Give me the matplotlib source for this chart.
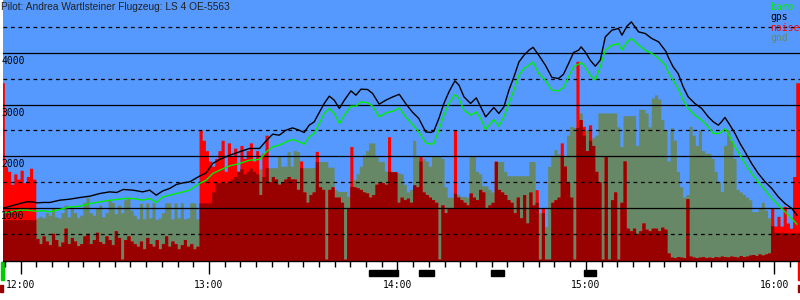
import matplotlib
matplotlib.use('Agg')
import matplotlib.pyplot as plt
import matplotlib.transforms as mtransforms
import numpy as np

# barogram of one flight, times in minutes after 12:00, heights in metres
title = 'Pilot: Andrea Wartlsteiner Flugzeug: LS 4 OE-5563'

# one value per minute, from -6 to 248
minutes = np.arange(-6, 249)

gnd = [764] * 11 + [
    800, 830, 800, 900, 850, 1000, 820, 800, 900, 1050, 820, 1000, 900, 800, 850, 1100,
    1200, 900, 850, 1000, 1050, 820, 900, 1150, 1100, 880, 1050, 900, 1150, 1200, 950,
    850, 780, 1080, 780, 1090, 800, 1090, 770, 800, 900, 1090, 1090, 780, 1090, 800, 1090,
    780, 800, 1090, 1090, 780,
    1090, 1090, 1090, 1090, 1300, 1480, 1480, 1500, 1480, 1520, 1550, 1600, 1700, 1750,
    1650, 1700, 1760, 1700, 1650, 1750, 1600,
    1770, 1770, 1770, 1770, 1990, 1800, 1800, 2080, 1800, 2100, 2080, 1770, 1770, 1770,
    1770, 1770, 1890, 1890, 1890, 1890, 1780, 1780, 1345, 1312, 1312, 1312, 1215, 1409,
    1540, 1650, 1800, 2022, 2100, 2250, 2250, 2000, 1893, 1893, 1700, 1700, 1700, 1700, 1670,
    1650, 1450, 1300, 1350, 2300, 1990, 1900, 1950, 1900, 1800, 1990, 1990, 1990, 1950,
    1400, 1200, 1200, 1280, 1250, 1215, 1215, 1200, 1989, 1990, 1700, 1650, 1420, 1420,
    1350, 1300, 1890, 1890, 1890, 1700, 1615, 1615, 1615, 1615, 1615, 1615, 1615, 1890, 1890,
    1100, 900, 900, 630, 1796, 2000, 2119, 2040, 2000, 2000, 2400, 2567, 2550, 2550, 2830,
    2400, 2500, 2300, 2350, 2400, 2830, 2830, 2830, 2830, 2830, 2830, 2560, 2180, 2777,
    2777, 2777, 2777, 2200, 2900, 2900, 2830, 2560, 3120, 3180, 3100, 2700, 2500, 1900,
    2544, 2300, 1700, 1400, 1200, 1250, 2570, 2400, 2200, 2500, 2100, 2050, 2050, 1950,
    1700, 1500, 1310, 2200, 2500, 2300, 1950, 1350, 1300, 1250, 1200, 1150, 920, 920, 1000,
    1100, 950, 800, 650, 520, 520, 520, 513, 513, 513, 513, 513, 513]

noise = [
    3415, 1790, 1700, 1450, 1650, 1550, 1720, 1480, 1600, 1760, 1550,
    400, 300, 450, 350, 280, 500, 380, 250, 330, 600, 300, 420, 350, 260, 300, 450, 500,
    300, 380, 520, 340, 300, 450, 380, 280, 550, 420, 0, 380, 450, 350,
    300, 250, 350, 200, 420, 300, 250, 380, 200, 300, 450, 250, 350, 300, 200, 280, 380,
    250, 300, 200, 250,
    2500, 2300, 2100, 1900, 1800, 1950, 2100, 2300, 1700, 2250, 2000, 2150, 1700, 2200,
    1950, 2100, 2250, 1900, 2100, 1250, 2050,
    2400, 1500, 1600, 1550, 1450, 1500, 1550, 1600, 1550, 1550, 1350, 1900, 1300, 1100,
    1250, 1300, 2086, 1400, 1350, 0, 1350, 1400, 1200, 1200, 1100, 0, 1000, 2180, 1400,
    1380, 1350, 1300, 1280, 1200, 1250, 1450, 1500, 1480, 1450, 2370, 1690, 1690, 1100,
    1200, 1150, 1180, 1100, 1440, 1400, 2000, 1300, 1250, 1200, 1150, 1100, 0, 1050, 900,
    1000, 1000, 2500, 1200, 1150, 1100, 1050, 1280, 1200, 1150, 1350, 1300, 1000, 1050,
    1100, 1900, 1350, 1300, 1250, 1150, 1100, 900, 1200, 800, 1250, 700, 1300, 1050,
    1345, 0, 1000, 0, 0, 1100, 1150, 1200, 2250, 1800, 1500, 1200, 0, 3830, 2700, 2570,
    2100, 2600, 2200, 1700, 1500, 0, 2000, 0, 1150, 1300, 0, 1100, 1900, 600, 550, 600,
    500, 550, 700, 580, 550, 600, 600, 550, 620, 580, 120,
    40, 30, 50, 40, 30, 1170, 60, 40, 30, 40, 50, 30, 40, 30, 50, 40, 60, 50, 40, 60, 50,
    40, 70, 50, 60, 80, 90, 70, 100, 80, 100, 120, 1000, 640, 830, 640, 1020, 700, 600,
    1600, 3415, 3415]

# gps and baro heights, sampled along the trace
trace_t = [-6, -3.4, -0.2, 1.9, 4.0, 5.1, 7.2, 9.3, 12.5, 15.7, 18.9, 22.1, 25.3, 28.4,
           30.6, 32.7, 35.8, 38.9, 41.1, 43.2, 45.3, 47.5, 49.6, 51.7, 53.8, 57.0, 59.1,
           61.2, 63.4, 66.6, 69.7, 72.9, 76.1, 78.5, 80.3, 82.4, 84.5, 86.6, 88.7, 90.3,
           91.9, 93.5, 95.1, 96.7, 98.3, 99.9, 101.5, 103.1, 105.2, 106.8, 108.4, 110.5,
           112.1, 114.2, 116.3, 118.5, 120.6, 122.6, 124.7, 126.8, 129.0, 130.6, 131.6,
           133.2, 134.8, 136.4, 138.3, 139.6, 141.2, 143.3, 145.1, 146.5, 148.1, 150.7,
           152.3, 153.9, 155.5, 157.1, 158.7, 160.3, 161.9, 163.2, 165.0, 167.1, 169.2,
           171.3, 172.9, 174.5, 176.1, 177.7, 178.5, 179.8, 181.4, 183.0, 184.6, 186.2,
           188.3, 190.4, 191.5, 193.1, 194.5, 196.8, 198.9, 201.0, 203.2, 204.8, 205.5,
           206.2, 207.8, 209.4, 211.0, 212.6, 214.7, 216.9, 219.0, 220.6, 222.2, 223.2,
           224.3, 225.9, 227.5, 229.1, 230.7, 232.8, 234.9, 237.1, 239.2, 241.3, 243.4,
           245.6, 247.2]
gps = [991, 1035, 1087, 1118, 1118, 1099, 1107, 1107, 1151, 1171, 1203, 1229, 1281, 1312,
       1300, 1358, 1345, 1312, 1345, 1248, 1331, 1378, 1455, 1486, 1505, 1616, 1680,
       1861, 1939, 2022, 2086, 2152, 2152, 2320, 2428, 2409, 2506, 2550, 2506, 2461,
       2603, 2667, 2848, 3023, 3164, 3086, 2926, 3086, 3266, 3183, 3299, 3293,
       3216, 3009, 3086, 3150, 3200, 3023, 2860, 2732, 2473, 2461, 2486,
       2732, 3023, 3247, 3460, 3377, 3150, 3023, 3131, 2957, 2763, 2945,
       2829, 2957, 3280, 3537, 3827, 3957, 4054, 4110, 3957, 3764, 3526,
       3506, 3589, 3796, 4009, 4054, 4118, 4021, 3860, 3744, 3860, 4311,
       4441, 4474, 4344, 4518, 4601, 4408, 4377, 4280, 4214, 4087, 4030,
       3924, 3731, 3602, 3344, 3150, 3023, 2926, 2763, 2667, 2603, 2667,
       2752, 2603, 2442, 2249, 2086, 1861, 1668, 1505, 1378, 1215, 1087,
       991, 861]
baro = [900, 925, 958, 958, 945, 938, 945, 925, 971, 1022, 1035, 1087, 1118, 1151,
        1164, 1184, 1184, 1151, 1184, 1107, 1215, 1248, 1281, 1312, 1345, 1474, 1538,
        1668, 1732, 1815, 1861, 1925, 1939, 2100, 2183, 2216, 2280, 2326, 2280, 2235,
        2376, 2442, 2635, 2829, 2926, 2829, 2635, 2796, 2970, 2970, 3054, 3034,
        2970, 2763, 2841, 2873, 2935, 2763, 2622, 2473, 2260, 2235, 2248,
        2506, 2796, 3022, 3196, 3119, 2893, 2796, 2860, 2732, 2519, 2712,
        2583, 2763, 3022, 3280, 3570, 3700, 3764, 3827, 3603, 3473, 3280,
        3267, 3332, 3537, 3731, 3783, 3815, 3731, 3570, 3473, 3731, 4054,
        4151, 4183, 4054, 4214, 4280, 4151, 4054, 3990, 3893, 3796, 3750,
        3634, 3473, 3312, 3086, 2926, 2796, 2699, 2570, 2442, 2442, 2473,
        2539, 2376, 2183, 2022, 1861, 1668, 1505, 1345, 1184, 1055, 925,
        797, 687]

# circling phases marked under the time axis
circling = [(110.9, 120.1), (126.8, 131.6), (149.8, 153.9), (179.4, 183.2)]
takeoff_t, landing_t = -5.8, 247.9

hour_ticks = [0, 60, 120, 180, 240]
hour_labels = ['12:00', '13:00', '14:00', '15:00', '16:00']
height_lines = [1000, 2000, 3000, 4000]
half_lines = [500, 1500, 2500, 3500, 4500]

sky = '#5599ff'
gnd_col = '#668866'
ybot, ytop = -26, 5025

fig = plt.figure(figsize=(8, 3), dpi=100)
ax = fig.add_axes([3 / 800, 39 / 300, 797 / 800, 261 / 300])
ax.set_facecolor(sky)
ax.set_xlim(-5.6, 248.2)
ax.set_ylim(ybot, ytop)

edges = np.append(minutes, minutes[-1] + 1)
g = np.append(gnd, gnd[-1])
n = np.append(noise, noise[-1])
ax.fill_between(edges, ybot, g, step='post', color=gnd_col, lw=0)
ax.fill_between(edges, ybot, n, step='post', color='#ff0000', lw=0)
ax.fill_between(edges, ybot, np.minimum(g, n), step='post', color='#990000', lw=0)

for h in height_lines:
    ax.axhline(h, color='black', lw=0.9)
for h in half_lines:
    ax.axhline(h, color='black', lw=0.9, dashes=(3, 3))

ax.plot(trace_t, baro, color='#00ee00', lw=1.0)
ax.plot(trace_t, gps, color='black', lw=1.0)

# height labels sit just under their line
for h in height_lines:
    ax.annotate(str(h), xy=(0, h), xycoords=('axes fraction', 'data'),
                xytext=(-2, -3), textcoords='offset pixels', va='top', ha='left',
                fontsize=7, family='DejaVu Sans Mono', color='black')

for s in ['top', 'left', 'right']:
    ax.spines[s].set_visible(False)
ax.spines['bottom'].set_linewidth(1)
ax.set_yticks([])
ax.set_xticks(hour_ticks)
ax.set_xticklabels(hour_labels, family='DejaVu Sans Mono', fontsize=7)
ax.set_xticks(np.arange(-5, 249, 5), minor=True)
ax.tick_params(axis='x', which='major', length=9, width=1, pad=5)
ax.tick_params(axis='x', which='minor', length=4.5, width=1)

trans = mtransforms.blended_transform_factory(ax.transData, ax.transAxes)
for a, b in circling:
    ax.add_patch(plt.Rectangle((a, -0.058), b - a, 0.024, transform=trans,
                               color='black', clip_on=False))
ax.add_patch(plt.Rectangle((takeoff_t - 0.5, -0.073), 1.0, 0.07, transform=trans,
                           color='#00cc00', clip_on=False))
ax.add_patch(plt.Rectangle((takeoff_t - 0.8, -0.12), 1.0, 0.027, transform=trans,
                           color='#990000', clip_on=False))
ax.add_patch(plt.Rectangle((landing_t - 0.3, -0.073), 0.7, 0.07, transform=trans,
                           color='#ff0000', clip_on=False))
ax.add_patch(plt.Rectangle((landing_t - 0.3, -0.12), 0.7, 0.027, transform=trans,
                           color='#990000', clip_on=False))

fig.text(1 / 800, 1 - 7 / 300, title, va='center', ha='left', fontsize=7.3,
         family='Liberation Sans', color='#222222')

legend = [('baro', '#00ee00'), ('gps', 'black'), ('noise', '#ff0000'), ('gnd', gnd_col)]
for i, (name, col) in enumerate(legend):
    fig.text(770 / 800, 1 - (7 + 10.4 * i) / 300, name, va='center', ha='left',
             fontsize=7, family='DejaVu Sans Mono', color=col)

fig.savefig('out.png', dpi=100)
plt.close(fig)
